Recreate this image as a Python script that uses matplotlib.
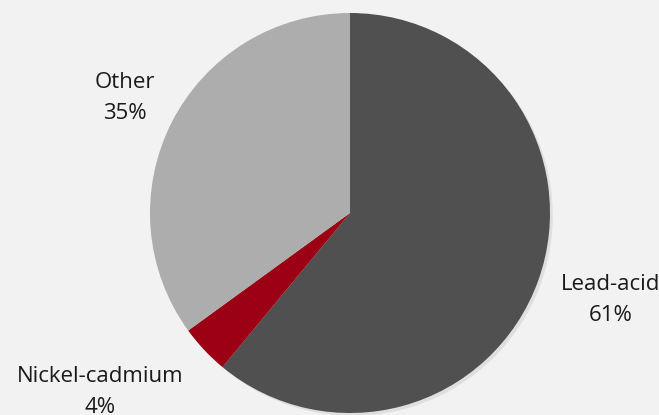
import matplotlib as mpl

mpl.use('Agg')
import matplotlib.pyplot as plt
from matplotlib.patches import Shadow

labels = ['Lead-acid', 'Nickel-cadmium', 'Other']
shares = [61, 4, 35]
colors = ['#505050', '#9B0014', '#ADADAD']

# label centres in pixel coords (x, y from top)
label_pos = [(611, 300), (100, 392), (125, 98)]

W, H = 659, 415
fig = plt.figure(figsize=(W / 100, H / 100), dpi=100)
fig.patch.set_facecolor('#F2F2F2')
ax = fig.add_axes([0, 0, 1, 1])
ax.set_facecolor('#F2F2F2')

wedges, _ = ax.pie(shares, colors=colors, startangle=90, counterclock=False,
                   center=(350, H - 213), radius=200,
                   wedgeprops=dict(linewidth=0))
for w in wedges:
    sh = Shadow(w, 2, -2, color='#000000', alpha=0.08, zorder=w.get_zorder() - 1)
    ax.add_patch(sh)

for lab, val, (x, y) in zip(labels, shares, label_pos):
    ax.text(x, H - y, f'{lab}\n{val}%', ha='center', va='center',
            fontsize=16, family=['Open Sans', 'DejaVu Sans'],
            color='#1a1a1a', linespacing=1.6, clip_on=False)

# pie() autoscales, so fix the pixel frame afterwards
ax.set_xlim(0, W)
ax.set_ylim(0, H)
ax.set_aspect('equal')
ax.axis('off')

fig.savefig('out.png', dpi=100, facecolor=fig.get_facecolor())
